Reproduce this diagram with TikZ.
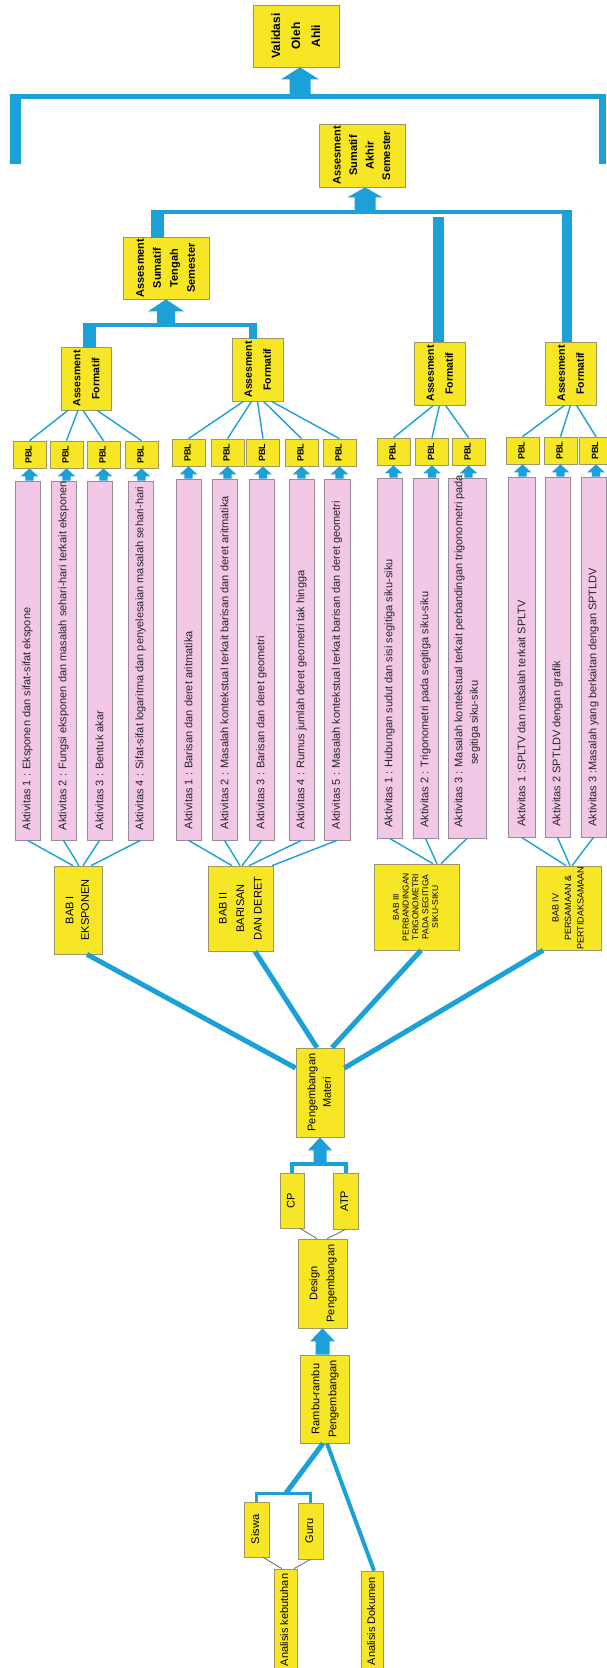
\documentclass[tikz,border=0pt]{standalone}
\usepackage{fontspec}
\setmainfont{Liberation Sans}
\usetikzlibrary{calc}
\definecolor{yel}{RGB}{247,230,37}
\definecolor{ybord}{RGB}{160,150,100}
\definecolor{pnk}{RGB}{242,200,230}
\definecolor{pbord}{RGB}{150,140,150}
\definecolor{cb}{RGB}{27,160,215}
\definecolor{gline}{RGB}{120,110,140}
\newcommand\vt[3]{\rotatebox{90}{\fontsize{#1}{#2}\selectfont\begin{tabular}{@{}c@{}}#3\end{tabular}}}
\newcommand\vtb[3]{\rotatebox{90}{\fontsize{#1}{#2}\selectfont\bfseries\begin{tabular}{@{}c@{}}#3\end{tabular}}}
\newcommand\aktt[1]{\rotatebox{90}{\fontsize{11}{15.5}\selectfont\makebox[339pt][l]{#1}}}
% block arrow pointing up: #1 tip, #2 base, #3 shaft half width, #4 head half width, #5 head length
\newcommand\blkarrow[5]{\fill[cb] let \p1=(#1), \p2=(#2) in (\x1,\y1) -- (\x1-#4pt,\y1-#5pt) -- (\x1-#3pt,\y1-#5pt) -- (\x1-#3pt,\y2) -- (\x1+#3pt,\y2) -- (\x1+#3pt,\y1-#5pt) -- (\x1+#4pt,\y1-#5pt) -- cycle;}
\tikzset{
  ybox/.style={draw=ybord, fill=yel, line width=0.7pt, inner sep=0pt, text=black},
  pbox/.style={draw=pbord, fill=pnk, line width=0.7pt, inner sep=0pt, text=black!85},
  fanl/.style={draw=cb, line width=1.4pt},
  grayl/.style={draw=gline, line width=0.9pt},
  thickl/.style={draw=cb, line width=5pt}
}
\begin{document}
\begin{tikzpicture}[x=1pt,y=-1pt]
\useasboundingbox (0,0) rectangle (606,1668);
% ---------- top level ----------
\node[ybox, minimum width=86, minimum height=62] (val) at (296,36) {\vtb{12}{20}{Validasi\\Oleh\\Ahli}};
\node[ybox, minimum width=86, minimum height=63] (akhir) at (362,155.5) {\vtb{11}{16.5}{Assesment\\Sumatif\\Akhir\\Semester}};
\node[ybox, minimum width=86, minimum height=62] (tengah) at (166,268) {\vtb{11}{17}{Assesment\\Sumatif\\Tengah\\Semester}};
\node[ybox, minimum width=50, minimum height=63] (f1) at (86,378.5) {\vtb{10.5}{19}{Assesment\\Formatif}};
\node[ybox, minimum width=51, minimum height=63] (f2) at (257.5,369.5) {\vtb{10.5}{19}{Assesment\\Formatif}};
\node[ybox, minimum width=51, minimum height=63] (f3) at (439.5,373.5) {\vtb{10.5}{19}{Assesment\\Formatif}};
\node[ybox, minimum width=51, minimum height=63] (f4) at (570.5,373.5) {\vtb{10.5}{19}{Assesment\\Formatif}};
% brackets
\fill[cb] (10,94) rectangle (606,99);
\fill[cb] (10,94) rectangle (21,164);
\fill[cb] (599,94) rectangle (606,164);
\coordinate (topbar) at (300,96);
\blkarrow{[xshift=4pt]val.south}{topbar}{10.5}{19}{12}
\fill[cb] (151,210) rectangle (572,214);
\fill[cb] (151,210) rectangle (164,237.5);
\fill[cb] (433,217) rectangle (444,342);
\fill[cb] (562,211) rectangle (572,342);
\coordinate (bar2) at (365,212);
\blkarrow{[xshift=3pt]akhir.south}{bar2}{10.5}{17.5}{10}
\fill[cb] (83,323) rectangle (257,327);
\fill[cb] (83,323) rectangle (96,347.5);
\fill[cb] (249,323) rectangle (257,338.5);
\coordinate (bar3) at (167,325);
\blkarrow{tengah.south}{bar3}{9}{18}{12}
% ---------- PBL ----------
\node[ybox, minimum width=33, minimum height=27] (p11) at (29.5,454.5) {\vtb{9}{11}{PBL}};
\node[ybox, minimum width=33, minimum height=27] (p12) at (66.5,454.5) {\vtb{9}{11}{PBL}};
\node[ybox, minimum width=33, minimum height=27] (p13) at (103.5,454.5) {\vtb{9}{11}{PBL}};
\node[ybox, minimum width=33, minimum height=27] (p14) at (141.5,454.5) {\vtb{9}{11}{PBL}};
\node[ybox, minimum width=33, minimum height=27] (p21) at (188.5,452.5) {\vtb{9}{11}{PBL}};
\node[ybox, minimum width=33, minimum height=27] (p22) at (227.5,452.5) {\vtb{9}{11}{PBL}};
\node[ybox, minimum width=33, minimum height=27] (p23) at (263,452.5) {\vtb{9}{11}{PBL}};
\node[ybox, minimum width=33, minimum height=27] (p24) at (301.5,452.5) {\vtb{9}{11}{PBL}};
\node[ybox, minimum width=33, minimum height=27] (p25) at (339.5,452.5) {\vtb{9}{11}{PBL}};
\node[ybox, minimum width=33, minimum height=27] (p31) at (393.5,451.5) {\vtb{9}{11}{PBL}};
\node[ybox, minimum width=33, minimum height=27] (p32) at (432,451.5) {\vtb{9}{11}{PBL}};
\node[ybox, minimum width=33, minimum height=27] (p33) at (468.5,451.5) {\vtb{9}{11}{PBL}};
\node[ybox, minimum width=33, minimum height=27] (p41) at (522.5,450.5) {\vtb{9}{11}{PBL}};
\node[ybox, minimum width=33, minimum height=27] (p42) at (560.5,450.5) {\vtb{9}{11}{PBL}};
\node[ybox, minimum width=33, minimum height=27] (p43) at (596,450.5) {\vtb{9}{11}{PBL}};
% ---------- Aktivitas ----------
\node[pbox, minimum width=25, minimum height=359] (a11) at (27.5,660.5) {\aktt{Aktivitas 1 : Eksponen dan sifat-sifat ekspone}};
\node[pbox, minimum width=25, minimum height=359] (a12) at (63.5,660.5) {\aktt{Aktivitas 2 : Fungsi eksponen dan masalah sehari-hari terkait eksponen}};
\node[pbox, minimum width=25, minimum height=359] (a13) at (99.5,660.5) {\aktt{Aktivitas 3 : Bentuk akar}};
\node[pbox, minimum width=25, minimum height=359] (a14) at (140.5,660.5) {\aktt{Aktivitas 4 : Sifat-sifat logaritma dan penyelesaian masalah sehari-hari}};
\node[pbox, minimum width=25, minimum height=361] (a21) at (188.5,659.5) {\aktt{Aktivitas 1 : Barisan dan deret aritmatika}};
\node[pbox, minimum width=25, minimum height=361] (a22) at (224.5,659.5) {\aktt{Aktivitas 2 : Masalah kontekstual terkait barisan dan deret aritmatika}};
\node[pbox, minimum width=25, minimum height=361] (a23) at (261.5,659.5) {\aktt{Aktivitas 3 : Barisan dan deret geometri}};
\node[pbox, minimum width=25, minimum height=361] (a24) at (301.5,659.5) {\aktt{Aktivitas 4 : Rumus jumlah deret geometri tak hingga}};
\node[pbox, minimum width=26, minimum height=361] (a25) at (337,659.5) {\aktt{Aktivitas 5 : Masalah kontekstual terkait barisan dan deret geometri}};
\node[pbox, minimum width=25, minimum height=360] (a31) at (389.5,658) {\aktt{Aktivitas 1 : Hubungan sudut dan sisi segitiga siku-siku}};
\node[pbox, minimum width=25, minimum height=360] (a32) at (425.5,658) {\aktt{Aktivitas 2 : Trigonometri pada segitiga siku-siku}};
\node[pbox, minimum width=38, minimum height=360] (a33) at (467,658) {\aktt{\begin{tabular}{@{}l@{}}Aktivitas 3 : Masalah kontekstual terkait perbandingan trigonometri pada\\\hspace*{63pt}segitiga siku-siku\end{tabular}}};
\node[pbox, minimum width=27, minimum height=360] (a41) at (521.5,657) {\aktt{Aktivitas 1 :SPLTV dan masalah terkait SPLTV}};
\node[pbox, minimum width=25, minimum height=360] (a42) at (557.5,657) {\aktt{Aktivitas 2 SPTLDV dengan grafik}};
\node[pbox, minimum width=25, minimum height=360] (a43) at (593.5,657) {\aktt{Aktivitas 3 :Masalah yang berkaitan dengan SPTLDV}};
% arrows Aktivitas -> PBL
\foreach \ga/\pb in {a11/p11,a12/p12,a13/p13,a14/p14,a21/p21,a22/p22,a23/p23,a24/p24,a25/p25,a31/p31,a32/p32,a33/p33,a41/p41,a42/p42,a43/p43}{
  \blkarrow{\pb.south}{\ga.north}{4.2}{8.8}{8}
}
% fans Formatif -> PBL
\draw[fanl] ([xshift=-18pt]f1.south) -- (p11.north);
\draw[fanl] ([xshift=-8pt]f1.south) -- (p12.north);
\draw[fanl] ([xshift=-3pt]f1.south) -- (p13.north);
\draw[fanl] ([xshift=11pt]f1.south) -- (p14.north);
\draw[fanl] ([xshift=-14pt]f2.south) -- (p21.north);
\draw[fanl] ([xshift=-6pt]f2.south) -- (p22.north);
\draw[fanl] ([xshift=0pt]f2.south) -- (p23.north);
\draw[fanl] ([xshift=6pt]f2.south) -- (p24.north);
\draw[fanl] ([xshift=14pt]f2.south) -- (p25.north);
\draw[fanl] ([xshift=-6pt]f3.south) -- (p31.north);
\draw[fanl] ([xshift=0pt]f3.south) -- (p32.north);
\draw[fanl] ([xshift=6pt]f3.south) -- (p33.north);
\draw[fanl] ([xshift=-6pt]f4.south) -- (p41.north);
\draw[fanl] ([xshift=0pt]f4.south) -- (p42.north);
\draw[fanl] ([xshift=6pt]f4.south) -- (p43.north);
% ---------- BAB ----------
\node[ybox, minimum width=48, minimum height=88] (bab1) at (78,910) {\vt{11}{15.5}{BAB I\\EKSPONEN}};
\node[ybox, minimum width=65, minimum height=85] (bab2) at (240.5,908.5) {\vt{11}{17.5}{BAB II\\BARISAN\\DAN DERET}};
\node[ybox, minimum width=85, minimum height=86] (bab3) at (416.5,907) {\vt{8.5}{9.8}{BAB III\\PERBANDINGAN\\TRIGONOMETRI\\PADA SEGITIGA\\SIKU-SIKU}};
\node[ybox, minimum width=65, minimum height=84] (bab4) at (568.5,908) {\vt{9}{12.5}{BAB IV\\PERSAMAAN \&\\PERTIDAKSAMAAN}};
% fans Aktivitas -> BAB
\draw[fanl] (a11.south) -- ([xshift=-5pt]bab1.north);
\draw[fanl] (a12.south) -- ([xshift=1pt]bab1.north);
\draw[fanl] (a13.south) -- ([xshift=5pt]bab1.north);
\draw[fanl] (a14.south) -- ([xshift=13pt]bab1.north);
\draw[fanl] (a21.south) -- ([xshift=-8.5pt]bab2.north);
\draw[fanl] (a22.south) -- ([xshift=-0.5pt]bab2.north);
\draw[fanl] (a23.south) -- ([xshift=1.5pt]bab2.north);
\draw[fanl] (a24.south) -- ([xshift=8.5pt]bab2.north);
\draw[fanl] (a25.south) -- ([xshift=31.5pt]bab2.north);
\draw[fanl] (a31.south) -- ([xshift=16.5pt]bab3.north);
\draw[fanl] (a32.south) -- ([xshift=20.5pt]bab3.north);
\draw[fanl] (a33.south) -- ([xshift=24.5pt]bab3.north);
\draw[fanl] (a41.south) -- ([xshift=-2.5pt]bab4.north);
\draw[fanl] (a42.south) -- ([xshift=1.5pt]bab4.north);
\draw[fanl] (a43.south) -- ([xshift=3.5pt]bab4.north);
% ---------- lower chain ----------
\node[ybox, minimum width=48, minimum height=89] (peng) at (320,1092.5) {\vt{11}{15.5}{Pengembangan\\Materi}};
\draw[thickl] ([xshift=9pt]bab1.south) -- ([yshift=24.5pt]peng.west);
\draw[thickl] ([xshift=14.5pt]bab2.south) -- ([xshift=-3pt]peng.north);
\draw[thickl] ([xshift=4.5pt]bab3.south) -- ([xshift=12pt]peng.north);
\draw[thickl] ([xshift=-25.5pt]bab4.south) -- ([yshift=24.5pt]peng.east);
\node[ybox, minimum width=24, minimum height=55] (cp) at (292,1200.5) {\vt{11}{13}{CP}};
\node[ybox, minimum width=25, minimum height=56] (atp) at (345.5,1201) {\vt{11}{13}{ATP}};
\coordinate (cpbar) at (318.5,1164);
\draw[cb, line width=4pt] (cp.north) |- (cpbar) -| (atp.north);
\blkarrow{peng.south}{cpbar}{6.5}{12}{13}
\node[ybox, minimum width=49, minimum height=89] (design) at (322.5,1283.5) {\vt{11}{17}{Design\\Pengembangan}};
\draw[grayl] ([xshift=8pt]cp.south) -- ([xshift=-5.5pt]design.north);
\draw[grayl] (atp.south) -- ([xshift=4.5pt]design.north);
\node[ybox, minimum width=49, minimum height=88] (rambu) at (324.5,1399) {\vt{11}{17}{Rambu-rambu\\Pengembangan}};
\blkarrow{design.south}{rambu.north}{7}{12.5}{13}
\node[ybox, minimum width=25, minimum height=55] (siswa) at (256.5,1529.5) {\vt{11}{13}{Siswa}};
\node[ybox, minimum width=25, minimum height=56] (guru) at (310.5,1531) {\vt{11}{13}{Guru}};
\coordinate (sgbar) at (286,1493);
\draw[cb, line width=3pt] (siswa.north) |- (sgbar) -| (guru.north);
\node[ybox, minimum width=23, minimum height=102] (ank) at (285.5,1620) {\vt{11}{13}{Analisis kebutuhan}};
\node[ybox, minimum width=22, minimum height=100] (and) at (372.5,1621) {\vt{11}{13}{Analisis Dokumen}};
\draw[thickl] ([xshift=-1.5pt]rambu.south) -- (sgbar);
\draw[cb, line width=4pt] ([xshift=2.5pt]rambu.south) -- ([xshift=1.5pt]and.north);
\draw[grayl] ([xshift=6.5pt]siswa.south) -- ([xshift=-3.5pt]ank.north);
\draw[grayl] (guru.south) -- ([xshift=8.5pt]ank.north);
\end{tikzpicture}
\end{document}
